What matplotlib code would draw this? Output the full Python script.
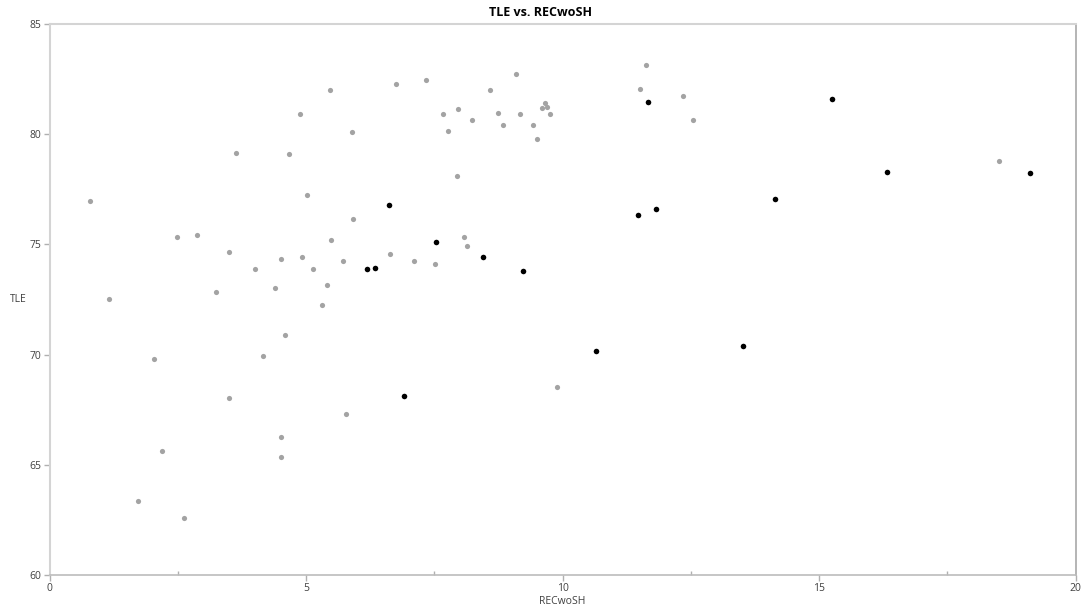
import matplotlib
matplotlib.use("Agg")
import matplotlib.pyplot as plt
from matplotlib.ticker import MultipleLocator

plt.rcParams['font.family'] = ['Open Sans', 'DejaVu Sans']

gray_x = [0.79, 1.16, 1.73, 2.04, 2.20, 2.48, 2.63, 2.87, 3.24, 3.49, 3.49, 3.64, 4.00, 4.16,
          4.39, 4.51, 4.52, 4.51, 4.59, 4.66, 4.88, 4.93, 5.02, 5.14, 5.32, 5.40, 5.47, 5.49,
          5.73, 5.77, 5.90, 5.92, 6.64, 6.76, 7.10, 7.33, 7.51, 7.66, 7.77, 7.95, 7.97, 8.08,
          8.13, 8.24, 8.59, 8.75, 8.84, 9.10, 9.17, 9.42, 9.50, 9.60, 9.65, 9.69, 9.76, 9.89,
          11.51, 11.63, 12.35, 12.55, 18.50]
gray_y = [76.95, 72.51, 63.34, 69.78, 65.63, 75.32, 62.60, 75.41, 72.84, 74.66, 68.02, 79.16,
          73.88, 69.92, 73.00, 74.34, 66.25, 65.34, 70.88, 79.08, 80.92, 74.45, 77.26, 73.87,
          72.25, 73.16, 82.02, 75.20, 74.26, 67.32, 80.09, 76.14, 74.56, 82.26, 74.25, 82.45,
          74.10, 80.92, 80.15, 78.10, 81.13, 75.35, 74.94, 80.66, 81.99, 80.96, 80.40, 82.72,
          80.92, 80.40, 79.78, 81.17, 81.42, 81.23, 80.93, 68.55, 82.07, 83.13, 81.73, 80.66,
          78.77]

black_x = [6.19, 6.34, 6.61, 6.90, 7.53, 8.44, 9.22, 10.65, 11.48, 11.67, 11.82, 13.52, 14.15,
           15.26, 16.32, 19.11]
black_y = [73.88, 73.94, 76.77, 68.12, 75.10, 74.44, 73.81, 70.18, 76.35, 81.48, 76.61, 70.39,
           77.05, 81.58, 78.27, 78.25]

x_ticks = [0, 5, 10, 15, 20]
y_ticks = [60, 65, 70, 75, 80, 85]

fig = plt.figure(figsize=(10.81, 6.06), dpi=100)
ax = fig.add_axes([0.0458, 0.0512, 0.9492, 0.9092])

ax.scatter(gray_x, gray_y, s=14, color='#a3a3a3', linewidths=0, zorder=3)
ax.scatter(black_x, black_y, s=16, color='#000000', linewidths=0, zorder=4)

ax.set_xlim(0, 20)
ax.set_ylim(60, 85)
ax.set_xticks(x_ticks)
ax.set_yticks(y_ticks)
ax.xaxis.set_minor_locator(MultipleLocator(2.5))

ax.tick_params(axis='both', which='major', labelsize=7.5, labelcolor='#404040',
               color='#b0b0b0', length=4, width=1, pad=2)
ax.tick_params(axis='x', which='minor', direction='in', length=3, color='#b0b0b0', width=1)

for side in ['left', 'top']:
    ax.spines[side].set_color('#d4d4d4')
    ax.spines[side].set_linewidth(1.5)
ax.spines['bottom'].set_color('#bcbcbc')
ax.spines['bottom'].set_linewidth(1.2)
ax.spines['right'].set_color('#a8a8a8')
ax.spines['right'].set_linewidth(1.2)

fig.text(0.5, 1 - 12 / 606, 'TLE vs. RECwoSH', fontsize=9, fontweight='bold',
         ha='center', va='center')
ax.set_xlabel('RECwoSH', fontsize=7.5, color='#404040', labelpad=1)
ax.set_ylabel('TLE', fontsize=7.5, color='#404040', rotation=0, labelpad=8, va='center')

fig.savefig('out.png', dpi=100, facecolor='white')
